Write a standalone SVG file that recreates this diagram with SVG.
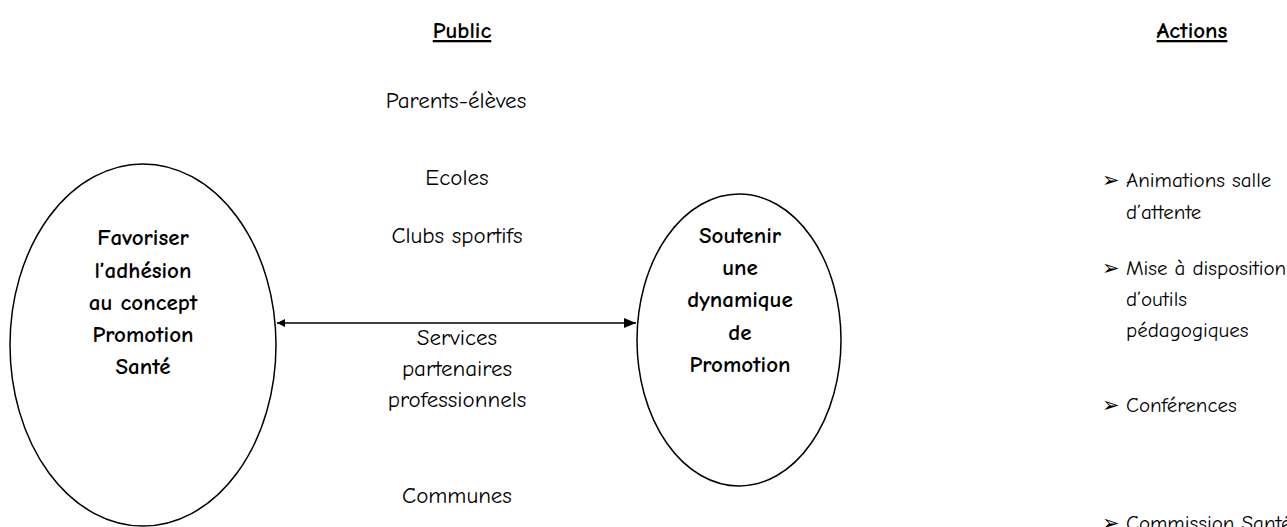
<svg xmlns="http://www.w3.org/2000/svg" width="1287" height="527" viewBox="0 0 1287 527">
<style>
text{font-family:"Comic Sans MS","Comic Neue","DejaVu Sans",sans-serif;font-size:23px;fill:#000}
.b{font-weight:bold}
.c{text-anchor:middle}
.u{text-decoration:underline}
.a{font-size:21px}
.node{fill:#fff;stroke:#000;stroke-width:1.5}
.conn{stroke:#000;stroke-width:1.5;fill:none}
</style>
<defs>
<marker id="ah" markerWidth="12" markerHeight="10" refX="12" refY="5" orient="auto" markerUnits="userSpaceOnUse">
<path d="M0,0 L12,5 L0,10 Z" fill="#000"/>
</marker>
<marker id="as" markerWidth="8" markerHeight="8" refX="0" refY="4" orient="auto" markerUnits="userSpaceOnUse">
<path d="M8,0 L0,4 L8,8 Z" fill="#000"/>
</marker>
</defs>
<rect width="1287" height="527" fill="#fff"/>
<g id="headers">
<text class="b c u" x="462" y="38">Public</text>
<text class="b c u" x="1192" y="38">Actions</text>
</g>
<g id="public">
<text class="c" x="456" y="108">Parents-élèves</text>
<text class="c" x="457" y="185">Ecoles</text>
<text class="c" x="457" y="243">Clubs sportifs</text>
<text class="c" x="457" y="345">Services</text>
<text class="c" x="457" y="376">partenaires</text>
<text class="c" x="457" y="407">professionnels</text>
<text class="c" x="457" y="503">Communes</text>
</g>
<g id="node-favoriser">
<ellipse class="node" cx="143" cy="345" rx="133" ry="181"/>
<text class="b c" x="143" y="245">Favoriser</text>
<text class="b c" x="143" y="278">l’adhésion</text>
<text class="b c" x="143" y="310">au concept</text>
<text class="b c" x="143" y="342">Promotion</text>
<text class="b c" x="143" y="374">Santé</text>
</g>
<g id="node-soutenir">
<ellipse class="node" cx="739" cy="340" rx="102" ry="146"/>
<text class="b c" x="740" y="243">Soutenir</text>
<text class="b c" x="740" y="275">une</text>
<text class="b c" x="740" y="307">dynamique</text>
<text class="b c" x="740" y="340">de</text>
<text class="b c" x="740" y="372">Promotion</text>
</g>
<g id="connectors">
<line class="conn" x1="277" y1="323" x2="636" y2="323" marker-start="url(#as)" marker-end="url(#ah)"/>
</g>
<g id="actions" class="a">
<text class="a" x="1102" y="187">➢</text>
<text class="a" x="1126" y="187">Animations salle</text>
<text class="a" x="1126" y="219">d’attente</text>
<text class="a" x="1102" y="275">➢</text>
<text class="a" x="1126" y="275">Mise à disposition</text>
<text class="a" x="1126" y="306">d’outils</text>
<text class="a" x="1126" y="337">pédagogiques</text>
<text class="a" x="1102" y="412">➢</text>
<text class="a" x="1126" y="412">Conférences</text>
<text class="a" x="1102" y="530">➢</text>
<text class="a" x="1126" y="530">Commission Santé</text>
</g>
</svg>
